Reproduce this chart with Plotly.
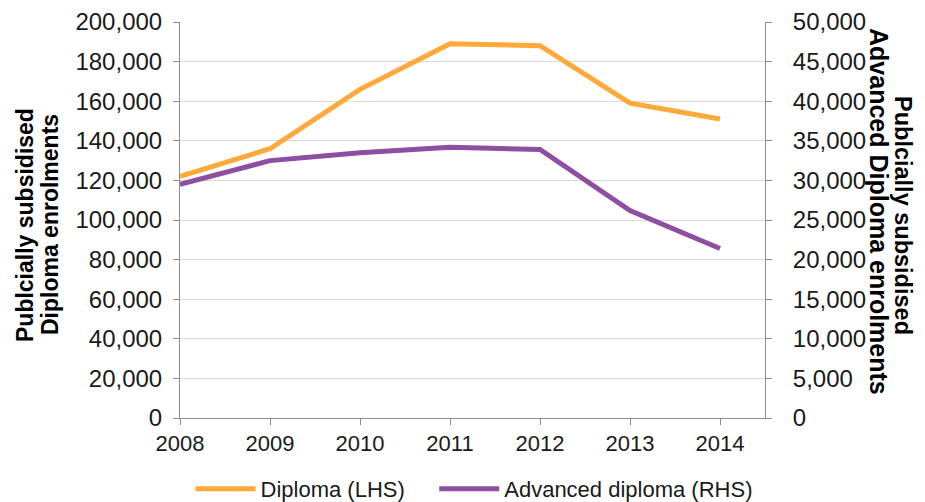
import plotly.graph_objects as go

years = [2008, 2009, 2010, 2011, 2012, 2013, 2014]
diploma = [122000, 136000, 166000, 189000, 188000, 159000, 151000]
advanced = [29500, 32500, 33500, 34200, 33900, 26200, 21400]

left_ticks = list(range(0, 200001, 20000))
right_ticks = list(range(0, 50001, 5000))

orange = "#FFA93A"
purple = "#8F4FA0"
axis_gray = "#8C8C8C"
grid_gray = "#D9D9D9"
font_family = "Liberation Sans, Arial, sans-serif"

fig = go.Figure()
fig.add_trace(go.Scatter(x=years, y=diploma, mode="lines",
                         name="Diploma (LHS)" + "\u00a0" * 4,
                         line=dict(color=orange, width=5), yaxis="y"))
fig.add_trace(go.Scatter(x=years, y=advanced, mode="lines", name="Advanced diploma (RHS)",
                         line=dict(color=purple, width=5), yaxis="y2"))

title_font = dict(size=23, family=font_family, color="#000000")

fig.update_layout(
    width=917, height=494,
    margin=dict(l=172, r=160, t=14, b=84, autoexpand=False),
    paper_bgcolor="white", plot_bgcolor="white",
    font=dict(family=font_family, color="#1a1a1a"),
    xaxis=dict(range=[2008, 2014.5], tickvals=years, ticktext=[str(y) for y in years],
               showgrid=False, showline=True, linecolor=axis_gray, linewidth=1,
               ticks="outside", ticklen=6, tickcolor=axis_gray,
               tickfont=dict(size=22, family=font_family), zeroline=False),
    yaxis=dict(range=[0, 200000], tickvals=left_ticks, tickformat=",",
               showgrid=True, gridcolor=grid_gray, gridwidth=1,
               showline=True, linecolor=axis_gray, linewidth=1,
               ticks="outside", ticklen=6, tickcolor=axis_gray, ticklabelstandoff=6,
               tickfont=dict(size=24, family=font_family), zeroline=False),
    yaxis2=dict(range=[0, 50000], tickvals=right_ticks, tickformat=",",
                overlaying="y", side="right", showgrid=False,
                showline=True, linecolor=axis_gray, linewidth=1,
                ticks="outside", ticklen=6, tickcolor=axis_gray, ticklabelstandoff=16,
                tickfont=dict(size=24, family=font_family), zeroline=False),
    legend=dict(orientation="h", x=0.5026, xanchor="center", y=-0.1793, yanchor="middle",
                font=dict(size=22, family=font_family), itemwidth=60,
                bgcolor="rgba(0,0,0,0)"),
    showlegend=True,
    annotations=[
        dict(text="<b>Publcially subsidised</b>", xref="paper", yref="paper",
             x=-0.26496, y=0.48737, xanchor="center", yanchor="middle",
             textangle=-90, showarrow=False, font=title_font),
        dict(text="<b>Diploma enrolments</b>", xref="paper", yref="paper",
             x=-0.22222, y=0.48737, xanchor="center", yanchor="middle",
             textangle=-90, showarrow=False, font=title_font),
        dict(text="<b>Publcially subsidised</b>", xref="paper", yref="paper",
             x=1.23590, y=0.5126, xanchor="center", yanchor="middle",
             textangle=90, showarrow=False,
             font=dict(size=23.5, family=font_family, color="#000000")),
        dict(text="<b>Advanced Diploma enrolments</b>", xref="paper", yref="paper",
             x=1.19487, y=0.5202, xanchor="center", yanchor="middle",
             textangle=90, showarrow=False,
             font=dict(size=25, family=font_family, color="#000000")),
    ],
)

fig.write_html("out.html")
